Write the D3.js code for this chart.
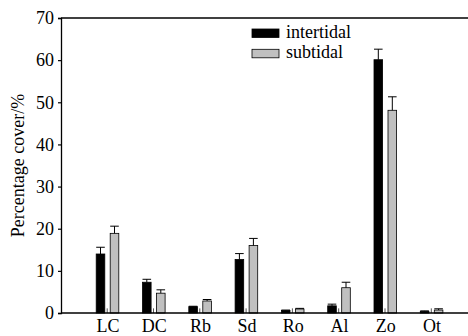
<!DOCTYPE html>
<html>
<head>
<meta charset="utf-8">
<script src="https://cdn.jsdelivr.net/npm/d3@7"></script>
<style>
  body { margin: 0; background: #fff; }
  text { font-family: "Liberation Serif", "Times New Roman", serif; }
</style>
</head>
<body>
<script>
// Data
const categories = ["LC", "DC", "Rb", "Sd", "Ro", "Al", "Zo", "Ot"];
const intertidal = [14.0, 7.3, 1.5, 12.7, 0.6, 1.7, 60.1, 0.4];
const intertidalErr = [1.6, 0.7, 0.1, 1.4, 0.1, 0.4, 2.5, 0.1];
const subtidal = [18.9, 4.7, 2.85, 16.0, 0.95, 6.0, 48.1, 0.7];
const subtidalErr = [1.7, 0.8, 0.35, 1.7, 0.15, 1.3, 3.2, 0.3];
const yTicks = [0, 10, 20, 30, 40, 50, 60, 70];

const W = 468, H = 336;
const margin = {top: 18, left: 61, bottom: 23};
const fs = 18;

const svg = d3.select("body").append("svg")
  .attr("width", W).attr("height", H);

const y = d3.scaleLinear().domain([0, 70]).range([H - margin.bottom, margin.top]);
const x = d3.scaleBand().domain(categories).range([84.85, 455.25]);
const step = x.bandwidth();
const center = c => x(c) + step / 2;

const barW = 8.6;

// bars
const series = [
  {name: "intertidal", vals: intertidal, err: intertidalErr, fill: "#000", off: -11.8},
  {name: "subtidal", vals: subtidal, err: subtidalErr, fill: "#c0c0c0", off: 2.2}
];

series.forEach(s => {
  const g = svg.append("g");
  g.selectAll("rect")
    .data(categories)
    .enter().append("rect")
      .attr("x", c => center(c) + s.off)
      .attr("y", (c, i) => y(s.vals[i]))
      .attr("width", barW)
      .attr("height", (c, i) => y(0) - y(s.vals[i]))
      .attr("fill", s.fill)
      .attr("stroke", "#000")
      .attr("stroke-width", 0.8);
  // error bars
  g.selectAll("path.err")
    .data(categories)
    .enter().append("path")
      .attr("class", "err")
      .attr("fill", "none")
      .attr("stroke", "#000")
      .attr("stroke-width", 1)
      .attr("d", (c, i) => {
        const cx = center(c) + s.off + barW / 2;
        const y0 = y(s.vals[i]), y1 = y(s.vals[i] + s.err[i]);
        return `M${cx},${y0}V${y1}M${cx - barW / 2},${y1}H${cx + barW / 2}`;
      });
});

// tiny marks between bar pairs
svg.append("g").selectAll("line")
  .data(categories)
  .enter().append("line")
    .attr("x1", c => center(c) - 0.8).attr("x2", c => center(c) - 0.8)
    .attr("y1", y(0)).attr("y2", y(1.1))
    .attr("stroke", "#555").attr("stroke-width", 1);

// axes
const yAxis = svg.append("g")
  .attr("transform", `translate(${margin.left},0)`)
  .call(d3.axisLeft(y).tickValues(yTicks).tickSize(3).tickPadding(4).tickFormat(d3.format("d")));
yAxis.select(".domain").attr("stroke-width", 1.3);
yAxis.selectAll(".tick line").attr("stroke-width", 1.2);
yAxis.selectAll("text").attr("font-size", fs).attr("fill", "#000");

const xAxis = svg.append("g")
  .attr("transform", `translate(0,${y(0)})`)
  .call(d3.axisBottom(x).tickSize(0).tickPadding(6));
xAxis.select(".domain").remove();
xAxis.selectAll("text").attr("font-size", fs).attr("fill", "#000");

svg.append("line")
  .attr("x1", margin.left).attr("x2", W)
  .attr("y1", y(0)).attr("y2", y(0))
  .attr("stroke", "#000").attr("stroke-width", 1.3);
svg.append("line")
  .attr("x1", margin.left).attr("x2", W)
  .attr("y1", y(70)).attr("y2", y(70))
  .attr("stroke", "#000").attr("stroke-width", 1.3);

// y label
svg.append("text")
  .attr("transform", `translate(20,${(y(0) + y(70)) / 2}) rotate(-90)`)
  .attr("text-anchor", "middle")
  .attr("dominant-baseline", "middle")
  .attr("font-size", fs)
  .text("Percentage cover/%");

// legend
const legend = svg.append("g").attr("transform", "translate(252,29)");
series.forEach((s, i) => {
  legend.append("rect")
    .attr("x", 0).attr("y", i * 20.3)
    .attr("width", 27).attr("height", 8.5)
    .attr("fill", s.fill).attr("stroke", "#000").attr("stroke-width", 0.8);
  legend.append("text")
    .attr("x", 34).attr("y", i * 20.3 + 9)
    .attr("font-size", fs)
    .text(s.name);
});
</script>
</body>
</html>
